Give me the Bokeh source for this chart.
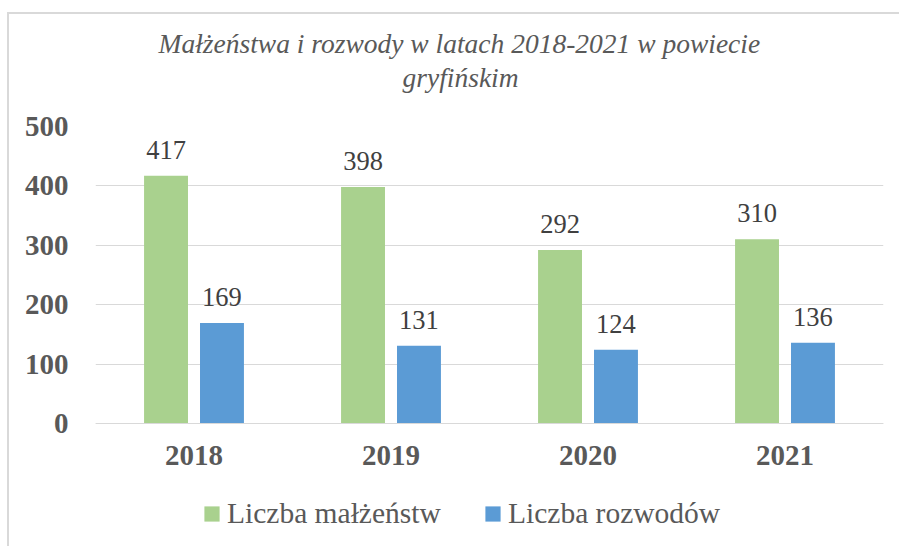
from bokeh.plotting import figure
from bokeh.models import ColumnDataSource, FactorRange, Range1d, Title, Legend, LegendItem, FixedTicker
from bokeh.transform import dodge
from bokeh.core.properties import value
from bokeh.embed import file_html
from bokeh.resources import INLINE

years = ["2018", "2019", "2020", "2021"]
malzenstwa = [417, 398, 292, 310]
rozwody = [169, 131, 124, 136]
series_names = ["Liczba małżeństw", "Liczba rozwodów"]
title_lines = ["Małżeństwa i rozwody w latach 2018-2021 w powiecie", "gryfińskim"]
y_ticks = [0, 100, 200, 300, 400, 500]

GREEN = "#A9D18E"
BLUE = "#5B9BD5"
SERIF = "Liberation Serif"
SERIF2 = "Times New Roman"

src = ColumnDataSource(dict(
    years=years, m=malzenstwa, r=rozwody,
    m_txt=[str(v) for v in malzenstwa], r_txt=[str(v) for v in rozwody],
))

# the frame reaches down to the window bottom so that the legend can sit inside it;
# the value axis still spans 0..500 over the upper 297 px
p = figure(
    x_range=FactorRange(*years, range_padding=0), y_range=Range1d(-207.1, 500),
    frame_width=788, frame_height=420, output_backend="svg", toolbar_location=None,
    min_border_left=86, min_border_right=18, min_border_top=112, min_border_bottom=0,
)
p.margin = (12, 0, 0, 7)
p.styles = {"border-top": "2px solid #d9d9d9", "border-left": "2px solid #d9d9d9"}
p.outline_line_color = None
p.background_fill_color = "white"
p.border_fill_color = "white"

g1 = p.vbar(x=dodge("years", -0.142, range=p.x_range), top="m", width=0.223, bottom=0,
            source=src, fill_color=GREEN, line_color=None)
g2 = p.vbar(x=dodge("years", 0.142, range=p.x_range), top="r", width=0.223, bottom=0,
            source=src, fill_color=BLUE, line_color=None)

for col, txt, off in (("m", "m_txt", -0.142), ("r", "r_txt", 0.142)):
    p.text(x=dodge("years", off, range=p.x_range), y=col, text=txt, source=src,
           text_align="center", text_baseline="alphabetic", y_offset=-26,
           text_font=value(SERIF2), text_font_size="26.5px", text_color="#404040")

# axes
p.yaxis.ticker = FixedTicker(ticks=y_ticks)
p.yaxis.axis_line_color = None
p.yaxis.major_tick_line_color = None
p.yaxis.minor_tick_line_color = None
p.yaxis.major_label_standoff = 21
p.yaxis.major_label_text_font = SERIF
p.yaxis.major_label_text_font_style = "bold"
p.yaxis.major_label_text_font_size = "29px"
p.yaxis.major_label_text_color = "#595959"

p.xaxis.fixed_location = 0
p.xaxis.axis_line_color = "#d9d9d9"
p.xaxis.axis_line_width = 1
p.xaxis.major_tick_line_color = None
p.xaxis.minor_tick_line_color = None
p.xaxis.major_label_standoff = 17
p.xaxis.major_label_text_font = SERIF
p.xaxis.major_label_text_font_style = "bold"
p.xaxis.major_label_text_font_size = "29px"
p.xaxis.major_label_text_color = "#595959"

p.xgrid.grid_line_color = None
p.ygrid.grid_line_color = "#d9d9d9"
p.ygrid.grid_line_width = 1

# title (two lines) above an empty spacer line
title_style = dict(text_font=SERIF2, text_font_style="italic", text_font_size="27.5px",
                   text_color="#595959")
p.add_layout(Title(text=" ", align="left", standoff=0, **title_style), "above")
for line, st, off in ((title_lines[1], 2, 307), (title_lines[0], 0, 63)):
    p.add_layout(Title(text=line, align="left", offset=off, standoff=st, **title_style), "above")

legend = Legend(
    items=[LegendItem(label=series_names[0], renderers=[g1]),
           LegendItem(label=series_names[1], renderers=[g2])],
    orientation="horizontal", location=(107, 16),
    glyph_width=19, glyph_height=19, label_standoff=6, spacing=0, label_width=256,
    padding=0, margin=0, border_line_color=None, background_fill_alpha=0,
    label_text_font=SERIF2, label_text_font_size="29.5px", label_text_color="#595959",
)
p.add_layout(legend, "center")

open("out.html", "w").write(file_html(p, INLINE))
